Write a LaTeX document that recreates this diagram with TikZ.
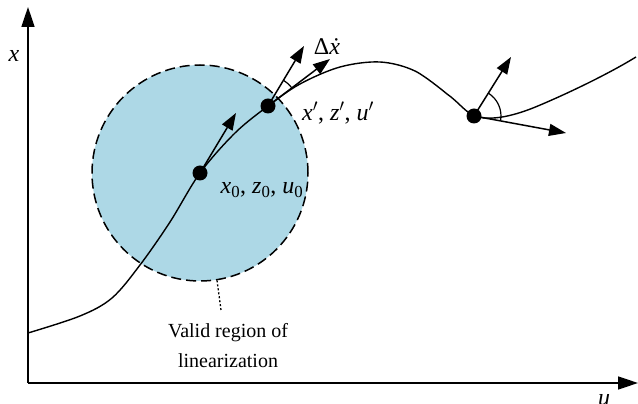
\documentclass[tikz,border=0pt]{standalone}
\usepackage{fontspec}
\setmainfont{Liberation Serif}
\usetikzlibrary{arrows.meta}
\definecolor{regcol}{RGB}{173,216,230}
\begin{document}
\begin{tikzpicture}[x=1pt,y=1pt,
  lbl/.style={font=\fontsize{20}{30}\selectfont, inner sep=0pt},
  mlbl/.style={font=\fontsize{24}{28}\selectfont, inner sep=0pt},
  vec/.style={line width=1.5pt, -{Triangle[length=17pt,width=12pt]}},
  dotnode/.style={circle, fill=black, minimum size=15pt, inner sep=0pt},
  curvestyle/.style={line width=1.4pt},
  axisstyle/.style={line width=1.6pt, -{Triangle[length=20pt,width=13pt]}},
  region/.style={circle, fill=regcol, draw=black, line width=1.5pt, dash pattern=on 10pt off 5pt, minimum size=216pt, inner sep=0pt}]
\useasboundingbox (0,0) rectangle (638,404);
% axes
\coordinate (O) at (28,21);
\coordinate (ytip) at (28,397);
\coordinate (xtip) at (638,21);
\draw[axisstyle] (O) -- (ytip);
\draw[axisstyle] (O) -- (xtip);
\node[mlbl] (xlab) at (14,348) {\textit{x}};
\node[mlbl] (ulab) at (604,4) {\textit{u}};
% region
\node[region] (reg) at (200,231) {};
\node[lbl, align=center] (vlab) at (228,58) {Valid region of\\linearization};
\coordinate (dend) at (221,94);
\draw[line width=1.3pt, dash pattern=on 2pt off 2pt] (reg.-81) -- (dend);
% curve
\draw[curvestyle] plot[smooth, tension=0.55] coordinates {(28,71) (80,88) (112,106) (140,139) (170,182) (200,231) (235,271) (268,298) (300,320) (340,337) (380,342) (415,333) (447,310)}
  .. controls (460,301) and (466,290) .. (478,287)
  .. controls (492,284) and (510,287) .. (533,296)
  .. controls (560,307) and (605,328) .. (636,347);
% points
\node[dotnode] (p0) at (200,231) {};
\node[dotnode] (p1) at (268,298) {};
\node[dotnode] (p2) at (474,288) {};
\coordinate (a0) at (236,291);
\coordinate (a1) at (304,358);
\coordinate (b1) at (330,345);
\coordinate (a2) at (511,347);
\coordinate (b2) at (566,271);
\draw[vec] (p0.center) -- (a0);
\draw[vec] (p1.center) -- (a1);
\draw[vec] (p1.center) -- (b1);
\draw[vec] (p2.center) -- (a2);
\draw[vec] (p2.center) -- (b2);
\draw[line width=1.2pt] (p1.center) ++(37:30) arc (37:59:30);
\draw[line width=1.2pt] (p2.center) ++(-9:27) arc (-9:58:27);
% labels
\node[mlbl] (dlab) at (327,357) {Δ\textit{\.{x}}};
\node[mlbl] (l1) at (338,291) {\textit{x}$'$, \textit{z}$'$, \textit{u}$'$};
\node[mlbl] (l0) at (262,214) {\textit{x}\textsubscript{0}, \textit{z}\textsubscript{0}, \textit{u}\textsubscript{0}};
\end{tikzpicture}
\end{document}
